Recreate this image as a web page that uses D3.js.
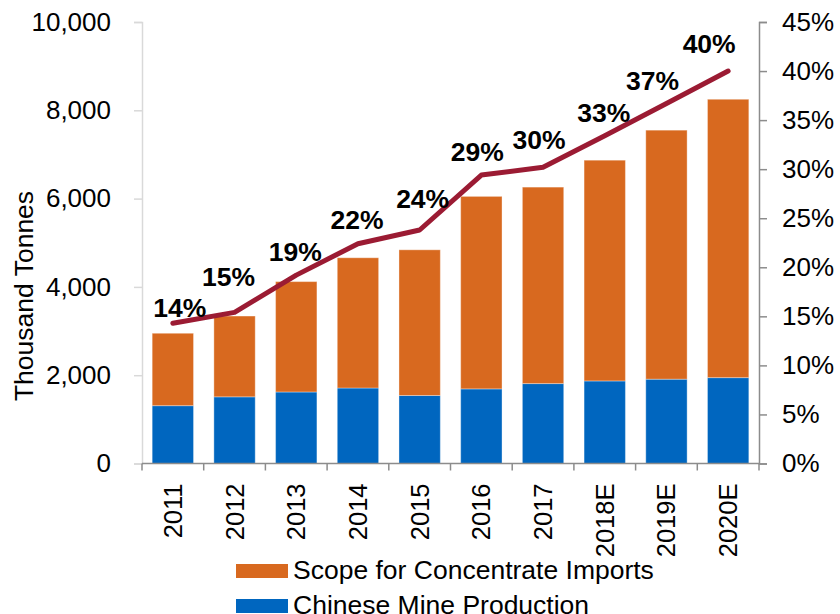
<!DOCTYPE html>
<html>
<head>
<meta charset="utf-8">
<script src="https://cdn.jsdelivr.net/npm/d3@7"></script>
<style>
  html, body { margin: 0; padding: 0; background: #fff; }
  svg { display: block; font-family: "Liberation Sans", Arial, Helvetica, sans-serif; }
</style>
</head>
<body>
<svg id="chart" width="840" height="614"></svg>
<script>
// Categories and series (thousand tonnes; share as a fraction)
const years = ["2011", "2012", "2013", "2014", "2015", "2016", "2017", "2018E", "2019E", "2020E"];
const mineProduction = [1310, 1510, 1620, 1710, 1540, 1690, 1810, 1870, 1910, 1945];
const concentrateImports = [1640, 1830, 2500, 2950, 3300, 4360, 4450, 5000, 5640, 6305];
const importShare = [0.143, 0.154, 0.192, 0.224, 0.238, 0.294, 0.302, 0.334, 0.367, 0.400];
const leftTicks = [0, 2000, 4000, 6000, 8000, 10000];
const rightTicks = [0, 0.05, 0.10, 0.15, 0.20, 0.25, 0.30, 0.35, 0.40, 0.45];
const seriesNames = ["Scope for Concentrate Imports", "Chinese Mine Production"];

// Label nudges [dx, dy] relative to each line point
const labelNudge = [[7, -6], [-6, -26], [-1, -14], [-1, -15], [3, -22], [-4, -14], [-4, -18], [-1, -14], [-14, -13], [-19, -18]];

const colors = { imports: "#D8691F", mine: "#0066BF", line: "#9B1B33" };

const svg = d3.select("#chart");
const plotLeft = 142, plotRight = 759, plotTop = 22, plotBottom = 463.5;

const x = d3.scaleBand().domain(years).range([plotLeft, plotRight]).paddingInner(0.33).paddingOuter(0.165);
const y = d3.scaleLinear().domain([0, 10000]).range([plotBottom, plotTop]);
const y2 = d3.scaleLinear().domain([0, 0.45]).range([plotBottom, plotTop]);

const rows = years.map((yr, i) => ({ year: yr, mine: mineProduction[i], imports: concentrateImports[i], share: importShare[i] }));
const stacked = d3.stack().keys(["mine", "imports"])(rows);

// Left axis
const gL = svg.append("g").attr("transform", `translate(${plotLeft},0)`)
  .call(d3.axisLeft(y).tickValues(leftTicks).tickFormat(d3.format(",")).tickSize(8).tickPadding(23));
gL.select(".domain").attr("stroke", "#d9d9d9").attr("stroke-width", 1.5);
gL.selectAll(".tick line").attr("stroke", "#d9d9d9").attr("stroke-width", 1.5);
gL.selectAll(".tick text").attr("font-size", 26).attr("fill", "#000").attr("font-family", "Liberation Sans, Arial, sans-serif");

// Right axis
const gR = svg.append("g").attr("transform", `translate(${plotRight},0)`)
  .call(d3.axisRight(y2).tickValues(rightTicks).tickFormat(d3.format(".0%")).tickSize(8).tickPadding(15));
gR.select(".domain").attr("stroke", "#8c8c8c").attr("stroke-width", 1.5);
gR.selectAll(".tick line").attr("stroke", "#8c8c8c").attr("stroke-width", 1.5);
gR.selectAll(".tick text").attr("font-size", 26).attr("fill", "#000").attr("font-family", "Liberation Sans, Arial, sans-serif");

// Stacked bars
svg.append("g").selectAll("g").data(stacked).join("g")
  .attr("fill", d => d.key === "mine" ? colors.mine : colors.imports)
  .selectAll("rect").data(d => d).join("rect")
  .attr("x", d => x(d.data.year))
  .attr("width", x.bandwidth())
  .attr("y", d => y(d[1]))
  .attr("height", d => y(d[0]) - y(d[1]))
  .attr("stroke", "rgba(255,255,255,0.35)")
  .attr("stroke-width", 1);

// Bottom axis with ticks at category boundaries
const step = x.step();
const gB = svg.append("g");
gB.append("line").attr("x1", plotLeft).attr("x2", plotRight).attr("y1", plotBottom).attr("y2", plotBottom)
  .attr("stroke", "#8c8c8c").attr("stroke-width", 1.5);
gB.selectAll("line.tk").data(d3.range(years.length + 1)).join("line").attr("class", "tk")
  .attr("x1", i => plotLeft + i * step).attr("x2", i => plotLeft + i * step)
  .attr("y1", plotBottom).attr("y2", plotBottom + 7)
  .attr("stroke", "#8c8c8c").attr("stroke-width", 1.5);
gB.selectAll("text").data(years).join("text")
  .attr("transform", d => `translate(${x(d) + x.bandwidth() / 2 + 9},${plotBottom + 20}) rotate(-90)`)
  .attr("text-anchor", "end")
  .attr("font-size", 25.5)
  .attr("fill", "#000")
  .text(d => d);

// Share line
const linePts = rows.map(r => [x(r.year) + x.bandwidth() / 2, y2(r.share)]);
svg.append("path")
  .attr("d", d3.line()(linePts))
  .attr("fill", "none")
  .attr("stroke", colors.line)
  .attr("stroke-width", 5)
  .attr("stroke-linejoin", "round")
  .attr("stroke-linecap", "round");

svg.append("g").selectAll("text").data(rows).join("text")
  .attr("x", (d, i) => linePts[i][0] + labelNudge[i][0])
  .attr("y", (d, i) => linePts[i][1] + labelNudge[i][1])
  .attr("text-anchor", "middle")
  .attr("font-size", 26.5)
  .attr("font-weight", "bold")
  .attr("fill", "#000")
  .text(d => d3.format(".0%")(d.share));

// Left axis title
svg.append("text")
  .attr("transform", "translate(33,296) rotate(-90)")
  .attr("text-anchor", "middle")
  .attr("font-size", 26.5)
  .attr("fill", "#000")
  .text("Thousand Tonnes");

// Legend
const legend = svg.append("g");
const legendColors = [colors.imports, colors.mine];
seriesNames.forEach((name, i) => {
  const ly = 564 + i * 35;
  legend.append("rect").attr("x", 236).attr("y", ly).attr("width", 52).attr("height", 14).attr("fill", legendColors[i]);
  legend.append("text").attr("x", 293).attr("y", ly + 15).attr("font-size", 26.5).attr("fill", "#000").text(name);
});
</script>
</body>
</html>
